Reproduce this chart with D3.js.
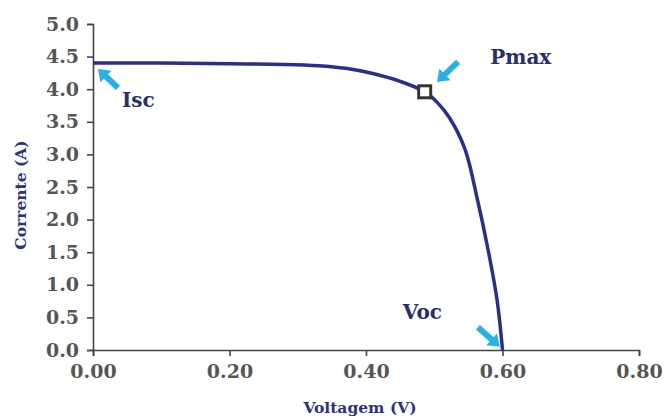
<!DOCTYPE html>
<html>
<head>
<meta charset="utf-8">
<script src="https://cdn.jsdelivr.net/npm/d3@7"></script>
<style>
  body { margin: 0; background: #fff; }
  .tick text { font-family: "DejaVu Serif", serif; font-weight: bold; fill: #555; }
  .domain, .tick line { stroke: #444; stroke-width: 1.6; }
</style>
</head>
<body>
<svg id="chart" width="666" height="419"></svg>
<script>
// I-V curve
var voltage = [0, 0.10, 0.20, 0.28, 0.33, 0.37, 0.41, 0.45, 0.486, 0.505, 0.523, 0.545, 0.563, 0.579, 0.592, 0.60];
var current = [4.40, 4.40, 4.39, 4.38, 4.36, 4.32, 4.24, 4.12, 3.96, 3.79, 3.55, 3.08, 2.32, 1.53, 0.77, 0.0];

var xTicks = [0, 0.2, 0.4, 0.6, 0.8];
var yTicks = [0, 0.5, 1, 1.5, 2, 2.5, 3, 3.5, 4, 4.5, 5];

// max power point
var pmax = {v: 0.486, i: 3.96};

// labels (left edge / baseline) and their arrows, in data coordinates
var labels = [
  {text: "Isc",  v: 0.0425, i: 3.73},
  {text: "Pmax", v: 0.582,  i: 4.38},
  {text: "Voc",  v: 0.454,  i: 0.47}
];
var arrows = [
  {v0: 0.0366, i0: 4.02, v1: 0.0073, i1: 4.31},
  {v0: 0.535,  i0: 4.42, v1: 0.504,  i1: 4.11},
  {v0: 0.564,  i0: 0.35, v1: 0.596,  i1: 0.05}
];

var svg = d3.select("#chart");

var x = d3.scaleLinear().domain([0, 0.8]).range([93, 639]);
var y = d3.scaleLinear().domain([0, 5]).range([350, 24]);

var points = voltage.map(function(v, k){ return {v: v, i: current[k]}; });

svg.append("g")
  .attr("transform", "translate(0," + y(0) + ")")
  .call(d3.axisBottom(x).tickValues(xTicks).tickFormat(d3.format(".2f")).tickSize(6).tickPadding(9))
  .selectAll("text").style("font-size", "19px");

svg.append("g")
  .attr("transform", "translate(" + x(0) + ",0)")
  .call(d3.axisLeft(y).tickValues(yTicks).tickFormat(d3.format(".1f")).tickSize(6).tickPadding(8))
  .selectAll("text").style("font-size", "19px");

svg.selectAll(".domain").attr("fill", "none");

var line = d3.line()
  .x(function(d){ return x(d.v); })
  .y(function(d){ return y(d.i); })
  .curve(d3.curveCatmullRom.alpha(0.5));

svg.append("path")
  .datum(points)
  .attr("d", line)
  .attr("fill", "none")
  .attr("stroke", "#2b2f8c")
  .attr("stroke-width", 3.5);

svg.append("rect")
  .attr("x", x(pmax.v) - 6)
  .attr("y", y(pmax.i) - 6)
  .attr("width", 12)
  .attr("height", 12)
  .attr("fill", "#fff")
  .attr("stroke", "#333")
  .attr("stroke-width", 3);

// arrows: shaft + head
arrows.forEach(function(a){
  var x0 = x(a.v0), y0 = y(a.i0), x1 = x(a.v1), y1 = y(a.i1);
  var dx = x1 - x0, dy = y1 - y0, len = Math.sqrt(dx*dx + dy*dy);
  var ux = dx/len, uy = dy/len, px = -uy, py = ux;
  var hl = 11, hw = 8, sw = 3;
  var bx = x1 - ux*hl, by = y1 - uy*hl;
  var pts = [
    [x0 + px*sw, y0 + py*sw], [bx + px*sw, by + py*sw], [bx + px*hw, by + py*hw],
    [x1, y1],
    [bx - px*hw, by - py*hw], [bx - px*sw, by - py*sw], [x0 - px*sw, y0 - py*sw]
  ];
  svg.append("polygon")
    .attr("points", pts.map(function(p){ return p.join(","); }).join(" "))
    .attr("fill", "#29b0e6");
});

svg.selectAll(".lbl")
  .data(labels)
  .enter().append("text")
  .attr("class", "lbl")
  .attr("x", function(d){ return x(d.v); })
  .attr("y", function(d){ return y(d.i); })
  .attr("text-anchor", "start")
  .style("font-family", "DejaVu Serif, serif")
  .style("font-weight", "bold")
  .style("font-size", "20px")
  .attr("fill", "#2a2e6e")
  .text(function(d){ return d.text; });

svg.append("text")
  .attr("x", 360)
  .attr("y", 413)
  .attr("text-anchor", "middle")
  .style("font-family", "DejaVu Serif, serif")
  .style("font-weight", "bold")
  .style("font-size", "15.5px")
  .attr("fill", "#2d3180")
  .text("Voltagem (V)");

svg.append("text")
  .attr("transform", "translate(26,195) rotate(-90)")
  .attr("text-anchor", "middle")
  .style("font-family", "DejaVu Serif, serif")
  .style("font-weight", "bold")
  .style("font-size", "15.5px")
  .attr("fill", "#2d3180")
  .text("Corrente (A)");
</script>
</body>
</html>
